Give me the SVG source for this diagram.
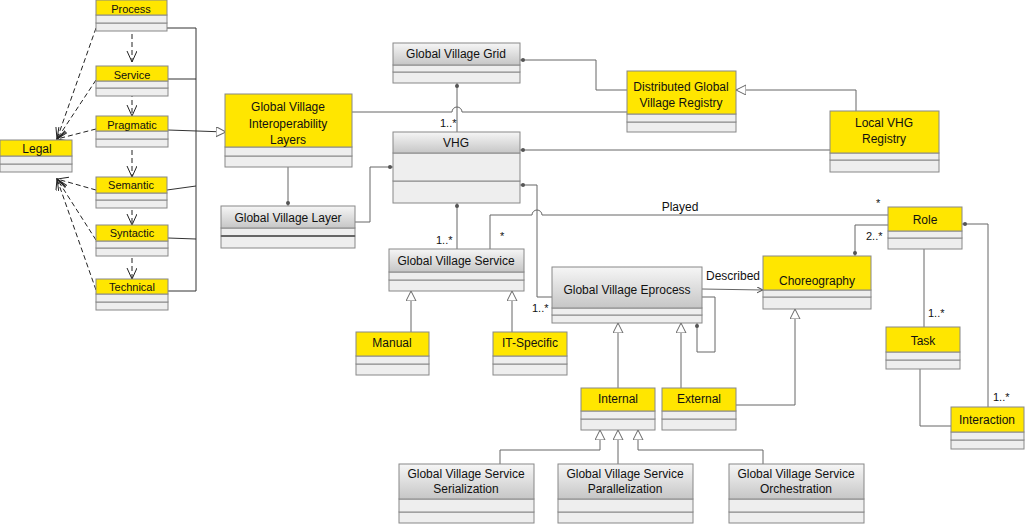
<svg xmlns="http://www.w3.org/2000/svg" width="1025" height="524" viewBox="0 0 1025 524">
<defs>
<linearGradient id="gg" x1="0" y1="0" x2="0" y2="1"><stop offset="0" stop-color="#F6F6F6"/><stop offset="1" stop-color="#C6C6C6"/></linearGradient>
<marker id="gen" markerUnits="userSpaceOnUse" markerWidth="11" markerHeight="11" refX="10" refY="5" orient="auto"><path d="M0,0 L10,5 L0,10 Z" fill="#fff" stroke="#666" stroke-width="1"/></marker>
<marker id="dep" markerUnits="userSpaceOnUse" markerWidth="12" markerHeight="12" refX="11" refY="5" orient="auto"><path d="M0,0 L11,5 L0,10" fill="none" stroke="#222" stroke-width="1"/></marker>
<marker id="arr" markerUnits="userSpaceOnUse" markerWidth="8" markerHeight="8" refX="6" refY="3" orient="auto"><path d="M0,0 L6,3 L0,6" fill="none" stroke="#555" stroke-width="1"/></marker>
<marker id="dot" markerUnits="userSpaceOnUse" markerWidth="6" markerHeight="6" refX="6" refY="3" orient="auto-start-reverse"><circle cx="3" cy="3" r="2" fill="#555"/></marker>
</defs>
<style>
.y{fill:#FFE600;stroke:#888;stroke-width:1}
.g{fill:url(#gg);stroke:#888;stroke-width:1}
.c{fill:#EEEEEE;stroke:#888;stroke-width:1}
text{font-family:"Liberation Sans",Arial,sans-serif;font-size:12px;fill:#111;text-anchor:middle}
.s{font-size:11px}
.lb{font-size:11px;text-anchor:start}
.ln{fill:none;stroke:#666;stroke-width:1}
.bus{fill:none;stroke:#333;stroke-width:1}
.dash{fill:none;stroke:#222;stroke-width:1;stroke-dasharray:5,3}
</style>
<rect width="1025" height="524" fill="#fff"/>
<g id="connectors">
<path class="bus" d="M196,28 V291 M167,28 H196 M168,79 H196 M167,190 L196,186 M168,238 L196,239 M168,291 H196"/>
<path class="bus" d="M168,130 L226,132" marker-end="url(#gen)"/>
<path class="dash" d="M132,34 V62" marker-end="url(#dep)"/>
<path class="dash" d="M132,84 V116" marker-end="url(#dep)"/>
<path class="dash" d="M132,150 V177" marker-end="url(#dep)"/>
<path class="dash" d="M132,210 V225" marker-end="url(#dep)"/>
<path class="dash" d="M132,258 V279" marker-end="url(#dep)"/>
<path class="dash" d="M96,28 L57,139" marker-end="url(#dep)"/>
<path class="dash" d="M96,80 L57,139" marker-end="url(#dep)"/>
<path class="dash" d="M96,129 L57,139" marker-end="url(#dep)"/>
<path class="dash" d="M96,190 L57,179" marker-end="url(#dep)"/>
<path class="dash" d="M96,240 L57,179" marker-end="url(#dep)"/>
<path class="dash" d="M96,290 L57,179" marker-end="url(#dep)"/>
<path class="ln" d="M288,167 V206" marker-end="url(#dot)"/>
<path class="ln" d="M355,222 H370 V167 H393" marker-end="url(#dot)"/>
<path class="ln" d="M457,83 V132" marker-start="url(#dot)"/>
<path class="ln" d="M352,112 H452 A5,5 0 0 1 462,112 H627"/>
<path class="ln" d="M520,60 H596 V90 H627" marker-start="url(#dot)"/>
<path class="ln" d="M856,111 V90 H736" marker-end="url(#gen)"/>
<path class="ln" d="M830,150 H520" marker-end="url(#dot)"/>
<path class="ln" d="M520,185 H537 V297 H552" marker-start="url(#dot)"/>
<path class="ln" d="M457,203 V249" marker-start="url(#dot)"/>
<path class="ln" d="M490,249 V215 H532 A5,5 0 0 1 542,215 H888"/>
<path class="ln" d="M411,332 V291" marker-end="url(#gen)"/>
<path class="ln" d="M512,332 V291" marker-end="url(#gen)"/>
<path class="ln" d="M702,289 L763,290" marker-end="url(#arr)"/>
<path class="ln" d="M702,297 H715 V352 H697 V323" marker-end="url(#dot)"/>
<path class="ln" d="M618,388 V323" marker-end="url(#gen)"/>
<path class="ln" d="M681,388 V323" marker-end="url(#gen)"/>
<path class="ln" d="M736,405 H795 V309" marker-end="url(#gen)"/>
<path class="ln" d="M888,225 H855 V256" marker-end="url(#dot)"/>
<path class="ln" d="M924,249 V327"/>
<path class="ln" d="M920,369 V426 H951"/>
<path class="ln" d="M988,407 V224 H962" marker-end="url(#dot)"/>
<path class="ln" d="M500,464 V450 H600 V430" marker-end="url(#gen)"/>
<path class="ln" d="M618,464 V430" marker-end="url(#gen)"/>
<path class="ln" d="M763,464 V450 H638 V430" marker-end="url(#gen)"/>
<text class="lb" x="440" y="127">1..*</text>
<text class="lb" x="436" y="244">1..*</text>
<text class="lb" x="500" y="240">*</text>
<text x="680" y="211">Played</text>
<text class="lb" x="876" y="207">*</text>
<text class="lb" x="532" y="312">1..*</text>
<text x="733" y="280">Described</text>
<text class="lb" x="866" y="240">2..*</text>
<text class="lb" x="928" y="317">1..*</text>
<text class="lb" x="993" y="401">1..*</text>
</g>
<g id="process"><rect class="c" x="96" y="23" width="71" height="8"/><rect class="c" x="96" y="15" width="71" height="8"/><rect class="y" x="96" y="0" width="71" height="15"/><text class="s" x="131" y="13">Process</text></g>
<g id="service"><rect class="c" x="96" y="88" width="72" height="8"/><rect class="c" x="96" y="81" width="72" height="7"/><rect class="y" x="96" y="66" width="72" height="15"/><text class="s" x="132" y="79">Service</text></g>
<g id="pragmatic"><rect class="c" x="96" y="139" width="72" height="8"/><rect class="c" x="96" y="131" width="72" height="8"/><rect class="y" x="96" y="116" width="72" height="15"/><text class="s" x="132" y="129">Pragmatic</text></g>
<g id="semantic"><rect class="c" x="96" y="200" width="71" height="8"/><rect class="c" x="96" y="193" width="71" height="7"/><rect class="y" x="96" y="177" width="71" height="16"/><text class="s" x="131" y="189">Semantic</text></g>
<g id="syntactic"><rect class="c" x="96" y="248" width="72" height="8"/><rect class="c" x="96" y="241" width="72" height="7"/><rect class="y" x="96" y="225" width="72" height="16"/><text class="s" x="132" y="237">Syntactic</text></g>
<g id="technical"><rect class="c" x="96" y="302" width="72" height="8"/><rect class="c" x="96" y="294" width="72" height="8"/><rect class="y" x="96" y="279" width="72" height="15"/><text class="s" x="132" y="291">Technical</text></g>
<g id="legal"><rect class="c" x="0" y="164" width="72" height="8"/><rect class="c" x="0" y="156" width="72" height="8"/><rect class="y" x="0" y="140" width="72" height="16"/><text x="37" y="153">Legal</text></g>
<g id="gvgrid"><rect class="c" x="393" y="72" width="127" height="11"/><rect class="c" x="393" y="65" width="127" height="7"/><rect class="g" x="393" y="43" width="127" height="22"/><text x="456" y="58">Global Village Grid</text></g>
<g id="gvil"><rect class="c" x="225" y="156" width="127" height="11"/><rect class="c" x="225" y="147" width="127" height="9"/><rect class="y" x="225" y="94" width="127" height="53"/><text x="288" y="111">Global Village</text><text x="288" y="128">Interoperability</text><text x="288" y="144">Layers</text></g>
<g id="gvlayer"><rect class="c" x="221" y="236" width="134" height="12"/><rect class="c" x="221" y="228" width="134" height="8"/><line x1="221" y1="236" x2="355" y2="236" stroke="#666" stroke-width="2"/><rect class="g" x="221" y="206" width="134" height="22"/><text x="288" y="222">Global Village Layer</text></g>
<g id="vhg"><rect class="c" x="393" y="181" width="127" height="22"/><rect class="c" x="393" y="153" width="127" height="28"/><rect class="g" x="393" y="132" width="127" height="21"/><text x="456" y="147">VHG</text></g>
<g id="dgvr"><rect class="c" x="627" y="122" width="109" height="10"/><rect class="c" x="627" y="114" width="109" height="8"/><rect class="y" x="627" y="71" width="109" height="43"/><text x="681" y="91">Distributed Global</text><text x="681" y="107">Village Registry</text></g>
<g id="lvr"><rect class="c" x="830" y="160" width="109" height="12"/><rect class="c" x="830" y="153" width="109" height="7"/><rect class="y" x="830" y="111" width="109" height="42"/><text x="884" y="127">Local VHG</text><text x="884" y="143">Registry</text></g>
<g id="gvservice"><rect class="c" x="389" y="280" width="135" height="11"/><rect class="c" x="389" y="272" width="135" height="8"/><rect class="g" x="389" y="249" width="135" height="23"/><text x="456" y="265">Global Village Service</text></g>
<g id="manual"><rect class="c" x="356" y="364" width="73" height="11"/><rect class="c" x="356" y="356" width="73" height="8"/><rect class="y" x="356" y="332" width="73" height="24"/><text x="392" y="347">Manual</text></g>
<g id="itspecific"><rect class="c" x="493" y="364" width="74" height="11"/><rect class="c" x="493" y="356" width="74" height="8"/><rect class="y" x="493" y="332" width="74" height="24"/><text x="530" y="347">IT-Specific</text></g>
<g id="eprocess"><rect class="c" x="552" y="315" width="150" height="8"/><rect class="c" x="552" y="308" width="150" height="7"/><rect class="g" x="552" y="267" width="150" height="41"/><text x="627" y="294">Global Village Eprocess</text></g>
<g id="choreography"><rect class="c" x="763" y="297" width="108" height="12"/><rect class="c" x="763" y="290" width="108" height="7"/><rect class="y" x="763" y="256" width="108" height="34"/><text x="817" y="285">Choreography</text></g>
<g id="role"><rect class="c" x="888" y="238" width="74" height="11"/><rect class="c" x="888" y="231" width="74" height="7"/><rect class="y" x="888" y="207" width="74" height="24"/><text x="925" y="224">Role</text></g>
<g id="task"><rect class="c" x="886" y="360" width="74" height="9"/><rect class="c" x="886" y="352" width="74" height="8"/><rect class="y" x="886" y="327" width="74" height="25"/><text x="923" y="345">Task</text></g>
<g id="interaction"><rect class="c" x="951" y="440" width="73" height="9"/><rect class="c" x="951" y="432" width="73" height="8"/><rect class="y" x="951" y="407" width="73" height="25"/><text x="987" y="424">Interaction</text></g>
<g id="internal"><rect class="c" x="581" y="419" width="74" height="11"/><rect class="c" x="581" y="411" width="74" height="8"/><rect class="y" x="581" y="388" width="74" height="23"/><text x="618" y="403">Internal</text></g>
<g id="external"><rect class="c" x="662" y="419" width="74" height="11"/><rect class="c" x="662" y="411" width="74" height="8"/><rect class="y" x="662" y="388" width="74" height="23"/><text x="699" y="403">External</text></g>
<g id="serialization"><rect class="c" x="399" y="512" width="135" height="11"/><rect class="c" x="399" y="499" width="135" height="13"/><rect class="g" x="399" y="464" width="135" height="35"/><text x="466" y="478">Global Village Service</text><text x="466" y="493">Serialization</text></g>
<g id="parallelization"><rect class="c" x="558" y="512" width="135" height="11"/><rect class="c" x="558" y="499" width="135" height="13"/><rect class="g" x="558" y="464" width="135" height="35"/><text x="625" y="478">Global Village Service</text><text x="625" y="493">Parallelization</text></g>
<g id="orchestration"><rect class="c" x="729" y="512" width="135" height="11"/><rect class="c" x="729" y="499" width="135" height="13"/><rect class="g" x="729" y="464" width="135" height="35"/><text x="796" y="478">Global Village Service</text><text x="796" y="493">Orchestration</text></g>
</svg>
